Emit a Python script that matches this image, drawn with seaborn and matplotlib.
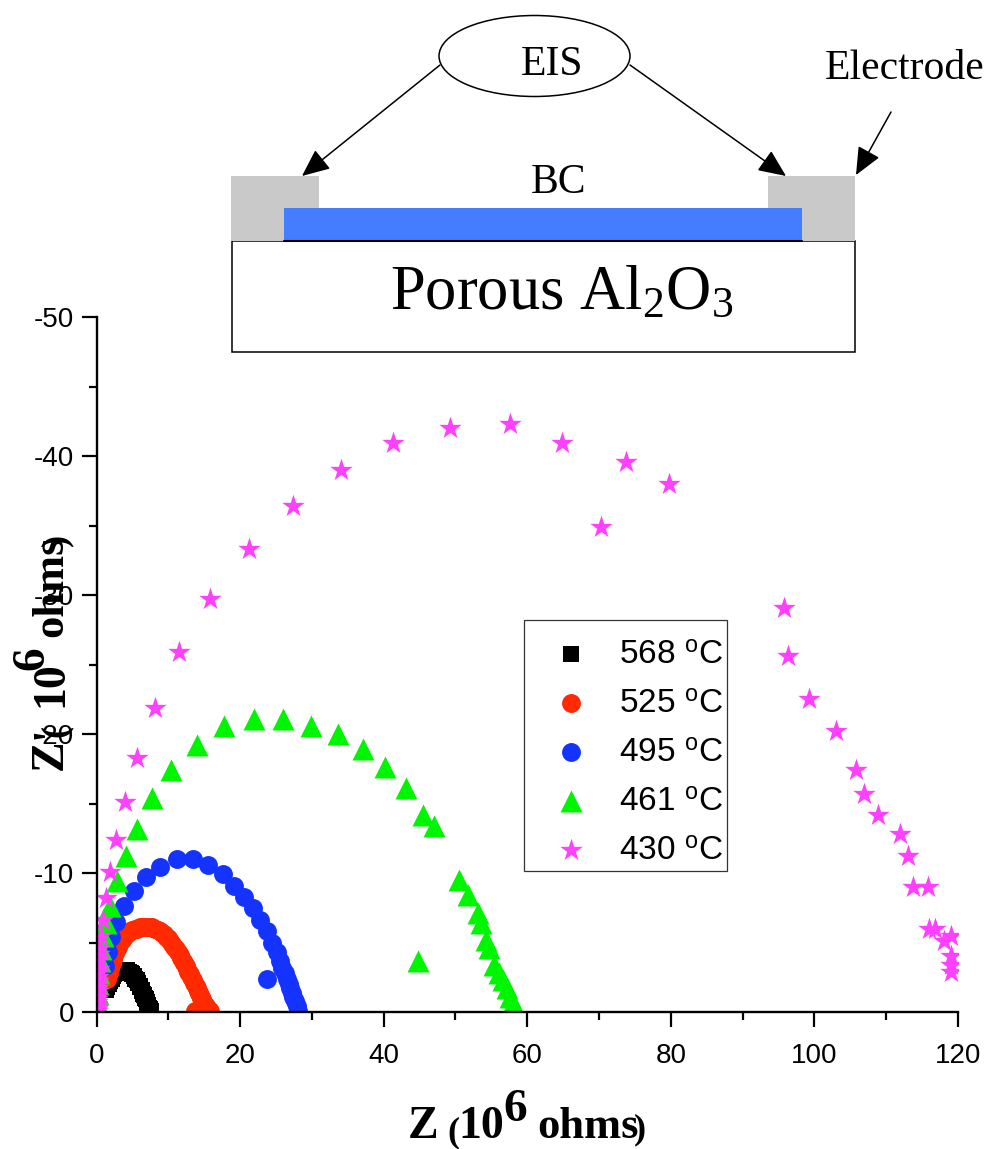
import numpy as np
import matplotlib
matplotlib.use("Agg")
import matplotlib.pyplot as plt
from matplotlib.patches import Ellipse, Rectangle
import seaborn as sns

# values, Z and -Z'' in 10^6 ohms
z_568 = [1.3, 1.5, 1.7, 1.9, 2.1, 2.3, 2.5, 2.7, 3.0, 3.2, 3.5, 3.8, 4.0, 4.3, 4.5, 4.8, 5.0, 5.2, 5.4, 5.6,
         5.8, 6.0, 6.1, 6.3, 6.4, 6.5, 6.6, 6.8, 6.9, 7.0, 7.1, 7.2, 7.3, 7.4, 7.5, 7.6]
im_568 = [1.6, 1.8, 2.0, 2.2, 2.4, 2.6, 2.7, 2.8, 2.9, 3.0, 3.0, 3.0, 3.0, 3.0, 2.9, 2.8, 2.7, 2.6, 2.4, 2.3,
          2.1, 1.9, 1.8, 1.6, 1.5, 1.3, 1.2, 1.0, 0.9, 0.7, 0.6, 0.5, 0.3, 0.2, 0.1, 0.05]

z_525 = [1.5, 1.7, 1.9, 2.1, 2.3, 2.5, 2.7, 3.0, 3.2, 3.5, 3.8, 4.1, 4.4, 4.7, 5.0, 5.3, 5.7, 6.0, 6.4, 6.7,
         7.1, 7.4, 7.8, 8.1, 8.5, 8.8, 9.1, 9.4, 9.7, 10.0, 10.3, 10.5, 10.8, 11.1, 11.3, 11.6, 11.8,
         12.0, 12.2, 12.4, 12.6, 12.8, 13.0, 13.2, 13.4, 13.6, 13.8, 14.0, 14.1, 14.3, 14.4, 14.6, 14.7,
         14.9, 15.0, 15.2, 15.3, 15.5, 15.6, 15.8, 13.7, 14.3, 15.0]
im_525 = [2.4, 2.8, 3.1, 3.5, 3.8, 4.1, 4.4, 4.7, 4.9, 5.2, 5.4, 5.6, 5.7, 5.8, 5.9, 6.0, 6.0, 6.1, 6.1, 6.1,
          6.1, 6.1, 6.1, 6.0, 5.9, 5.8, 5.7, 5.6, 5.4, 5.3, 5.1, 4.9, 4.7, 4.5, 4.3, 4.1, 3.9,
          3.7, 3.5, 3.3, 3.1, 2.9, 2.7, 2.5, 2.3, 2.1, 1.9, 1.7, 1.5, 1.4, 1.2, 1.0, 0.9,
          0.7, 0.6, 0.4, 0.3, 0.2, 0.1, 0.05, 0.05, 0.05, 0.05]

z_495 = [1.2, 1.6, 2.0, 2.7, 3.9, 5.2, 6.9, 8.8, 11.2, 13.4, 15.5, 17.6, 19.2, 20.5, 21.8, 22.8, 23.7, 24.4,
         25.1, 25.5, 25.9, 26.2, 26.5, 26.8, 27.0, 27.2, 27.4, 27.6, 27.9, 28.0, 23.7]
im_495 = [3.3, 4.3, 5.4, 6.5, 7.6, 8.7, 9.7, 10.4, 11.0, 11.0, 10.6, 9.9, 9.1, 8.3, 7.5, 6.6, 5.8, 5.0,
          4.3, 3.7, 3.2, 2.8, 2.4, 2.0, 1.7, 1.4, 1.1, 0.8, 0.4, 0.1, 2.4]

z_461 = [0.1, 0.15, 0.2, 0.3, 0.45, 0.6, 0.9, 1.3, 1.9, 2.9, 4.1, 5.6, 7.7, 10.4, 14.0, 17.8, 21.9, 26.0,
         29.9, 33.6, 37.1, 40.2, 43.1, 45.5, 47.0, 50.5, 51.7, 53.1, 53.6, 54.2, 54.7, 55.4, 56.0, 56.6,
         57.2, 57.6, 58.0, 44.8]
im_461 = [0.7, 1.3, 2.0, 2.8, 3.7, 4.5, 5.5, 6.4, 7.6, 9.4, 11.2, 13.2, 15.4, 17.4, 19.2, 20.6, 21.1, 21.1,
          20.6, 20.0, 18.9, 17.6, 16.1, 14.2, 13.4, 9.5, 8.4, 7.1, 6.4, 5.2, 4.6, 3.4, 2.8, 2.3,
          1.7, 1.1, 0.65, 3.7]

z_430 = [0.02, 0.03, 0.04, 0.05, 0.06, 0.07, 0.08, 0.1, 0.12, 0.14, 0.16, 0.18, 0.2, 0.22, 0.26, 0.3, 0.35, 0.4,
         0.45, 0.6, 0.9, 1.3, 1.9, 2.7, 4.0, 5.6, 8.2,
         11.5, 15.8, 21.2, 27.4, 34.1, 41.3, 49.2, 57.6, 64.8, 73.7, 79.7, 70.3, 95.8, 96.3, 99.2, 103.0,
         105.8, 106.9, 108.9, 111.9, 113.0, 113.8, 115.8, 116.0, 116.8, 119.0, 118.0, 119.0, 119.0, 119.0]
im_430 = [0.1, 0.2, 0.3, 0.4, 0.55, 0.7, 0.9, 1.1, 1.3, 1.5, 1.75, 2.0, 2.25, 2.5, 2.8, 3.1, 3.8, 4.2,
          4.6, 5.5, 6.6, 8.2, 10.1, 12.4, 15.1, 18.3, 21.9,
          25.9, 29.7, 33.3, 36.4, 39.0, 40.9, 42.0, 42.3, 40.9, 39.6, 38.0, 34.9, 29.1, 25.6, 22.5, 20.2,
          17.4, 15.7, 14.2, 12.8, 11.2, 9.0, 9.0, 6.0, 6.0, 5.5, 5.1, 4.0, 3.4, 2.9]

x_ticks = [0, 20, 40, 60, 80, 100, 120]
y_ticks = [0, -10, -20, -30, -40, -50]

W, H = 991, 1149
AX_L, AX_R, AX_T, AX_B = 96.5, 958, 317, 1012

sns.set_style("ticks")
plt.rcParams["font.family"] = ["Liberation Sans", "DejaVu Sans"]
plt.rcParams["mathtext.fontset"] = "custom"
plt.rcParams["mathtext.rm"] = "Liberation Serif"
plt.rcParams["mathtext.sf"] = "Liberation Sans"
plt.rcParams["mathtext.default"] = "rm"
plt.rcParams["axes.unicode_minus"] = False
plt.rcParams["text.color"] = "black"
plt.rcParams["xtick.labelcolor"] = "black"
plt.rcParams["ytick.labelcolor"] = "black"

fig = plt.figure(figsize=(W / 100, H / 100), dpi=100)
ax = fig.add_axes([AX_L / W, 1 - AX_B / H, (AX_R - AX_L) / W, (AX_B - AX_T) / H])
ax.patch.set_alpha(0)

series = [
    (z_568, im_568, "s", "#000000", 135, "568"),
    (z_525, im_525, "o", "#ff2a00", 185, "525"),
    (z_495, im_495, "o", "#1433ff", 185, "495"),
    (z_461, im_461, "^", "#00f500", 250, "461"),
    (z_430, im_430, "*", "#ff40ff", 290, "430"),
]
for z, im, marker, color, size, temp in series:
    sns.scatterplot(x=z, y=-np.array(im), marker=marker, color=color, s=size, linewidth=0, ax=ax,
                    label=temp + r" $^{\mathsf{o}}$C")

ax.set_xlim(0, 120)
ax.set_ylim(0, -50)
ax.set_xticks(x_ticks)
ax.set_xticks(np.arange(10, 120, 20), minor=True)
ax.set_yticks(y_ticks)
ax.set_yticks(np.arange(-5, -50, -10), minor=True)
ax.tick_params(which="major", length=11, width=1.6, labelsize=20, color="black")
ax.tick_params(which="minor", length=6, width=1.6, color="black")
ax.tick_params(axis="x", which="major", pad=11)
ax.tick_params(axis="y", which="major", pad=5)
sns.despine(ax=ax)
for side in ["left", "bottom"]:
    ax.spines[side].set_linewidth(1.7)
    ax.spines[side].set_color("black")

# frame is drawn separately below, the legend's own one can't get the taller top and bottom margins
ax.legend(loc="upper left", bbox_to_anchor=(524 / W, 1 - 632.5 / H), bbox_transform=fig.transFigure,
          borderaxespad=0, fontsize=24, frameon=False,
          handletextpad=0.25, labelspacing=0.54, borderpad=0.2, handlelength=2.4)

# overlay in image pixels for the sketch and the hand placed axis titles
ov = fig.add_axes([0, 0, 1, 1], zorder=5)
ov.set_xlim(0, W)
ov.set_ylim(H, 0)
ov.axis("off")

ov.add_patch(Rectangle((524, 620), 203, 251, fc="none", ec="#333333", lw=0.9))

ov.add_patch(Rectangle((231.5, 241), 623, 111, fc="none", ec="black", lw=1.1))
ov.add_patch(Rectangle((231, 176), 88, 33, fc="#c9c9c9", ec="none"))
ov.add_patch(Rectangle((231, 209), 53, 32, fc="#c9c9c9", ec="none"))
ov.add_patch(Rectangle((768, 176), 87, 33, fc="#c9c9c9", ec="none"))
ov.add_patch(Rectangle((802, 209), 53, 32, fc="#c9c9c9", ec="none"))
ov.add_patch(Rectangle((284, 208), 518, 32, fc="#447dff", ec="none"))
ov.plot([284, 802], [240.5, 240.5], color="black", lw=1.5)
ov.add_patch(Ellipse((534.5, 56), 191, 81, fc="white", ec="black", lw=1.1))
for start, end in [((440, 65), (302, 176)), ((630, 65), (786, 176)), ((891, 112), (856, 175))]:
    ov.annotate("", xy=end, xytext=start,
                arrowprops=dict(arrowstyle="-|>,head_length=0.95,head_width=0.42", color="black", lw=1.1,
                                shrinkA=0, shrinkB=0, mutation_scale=18))

serif = ["Liberation Serif", "DejaVu Serif"]
ov.text(552, 75, "EIS", family=serif, fontsize=30, ha="center", va="baseline")
ov.text(558, 193, "BC", family=serif, fontsize=30, ha="center", va="baseline")
ov.text(825, 79, "Electrode", family=serif, fontsize=30, ha="left", va="baseline")
ov.text(390, 309, "Porous Al$_2$O$_3$", family=serif, fontsize=45, ha="left", va="baseline")


def label_bit(x, y, s, size, rot=0):
    ov.text(x, y, s, family=serif, weight="bold", fontsize=size, rotation=rot, rotation_mode="anchor",
            ha="left", va="baseline")


# Z (10^6 ohms)
label_bit(408, 1138, "Z", 33)
label_bit(447, 1141, "(", 26)
label_bit(458, 1138, "10", 33)
label_bit(503, 1121, "6", 34)
label_bit(537, 1138, "ohms", 32)
label_bit(634, 1138, ")", 26)

# Z'' (10^6 ohms), sits over the tick labels in the original
label_bit(62, 770, "Z", 33, 90)
label_bit(62, 739, "'", 33, 90)
label_bit(65, 737, "(", 26, 90)
label_bit(62, 707, "10", 33, 90)
label_bit(43, 670, "6", 34, 90)
label_bit(62, 637, "ohms", 32, 90)
label_bit(65, 546, ")", 26, 90)

fig.savefig("out.png", dpi=100)
